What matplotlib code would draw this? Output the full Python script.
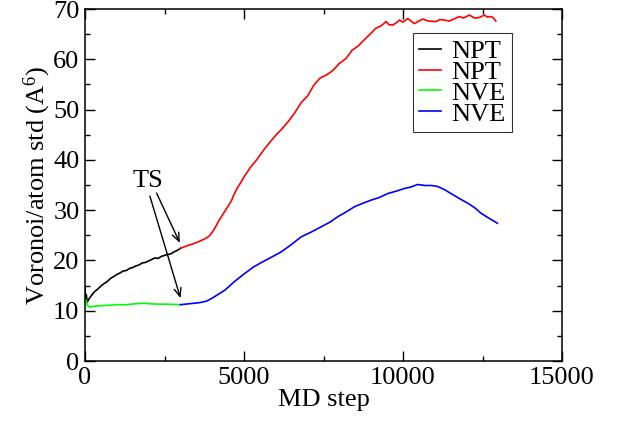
import matplotlib
matplotlib.use("Agg")
import matplotlib.pyplot as plt

# ---- data ----
npt1_step = [0, 15, 40, 70, 120, 200, 300, 400, 500, 600, 700, 800, 900, 1000,
             1100, 1200, 1300, 1400, 1500, 1600, 1700, 1800, 1900, 2000, 2100,
             2200, 2300, 2400, 2500, 2600, 2700, 2800, 2900, 3000]
npt1_val = [14.9, 12.2, 13.2, 11.7, 12.3, 13.0, 13.8, 14.3, 14.9, 15.4, 15.8,
            16.4, 16.8, 17.2, 17.5, 17.9, 18.0, 18.4, 18.6, 18.9, 19.1, 19.5,
            19.6, 19.9, 20.2, 20.5, 20.4, 20.8, 21.0, 21.2, 21.3, 21.7, 22.0, 22.4]

npt2_step = [3000, 3200, 3400, 3600, 3800, 3900, 4000, 4100, 4200, 4300, 4400,
             4500, 4600, 4700, 4800, 4900, 5000, 5200, 5400, 5600, 5800, 6000,
             6200, 6400, 6600, 6800, 7000, 7200, 7400, 7600, 7800, 8000, 8200,
             8400, 8600, 8800, 9000, 9150, 9300, 9470, 9550, 9680, 9800, 9890,
             10000, 10150, 10250, 10360, 10500, 10620, 10800, 11040, 11150,
             11300, 11450, 11600, 11770, 11900, 12090, 12250, 12400, 12560,
             12650, 12770, 12850, 12920]
npt2_val = [22.4, 22.9, 23.3, 23.8, 24.4, 24.8, 25.6, 26.6, 27.8, 28.8, 29.8,
            30.8, 31.8, 33.3, 34.5, 35.5, 36.6, 38.5, 40.0, 41.8, 43.4, 44.9,
            46.2, 47.7, 49.4, 51.4, 52.7, 54.9, 56.3, 56.9, 57.8, 59.2, 60.1,
            61.8, 62.7, 64.0, 65.2, 66.2, 66.6, 67.5, 66.9, 66.8, 67.3, 67.8,
            67.4, 68.1, 67.6, 67.1, 67.6, 68.0, 67.6, 67.5, 67.9, 67.8, 67.6,
            68.0, 68.5, 68.2, 68.8, 68.2, 68.3, 68.8, 68.4, 68.5, 68.2, 67.6]

nve1_step = [0, 30, 80, 150, 300, 500, 800, 1000, 1300, 1600, 1900, 2000,
             2300, 2600, 3000]
nve1_val = [11.8, 12.2, 11.0, 10.7, 10.9, 11.0, 11.1, 11.2, 11.2, 11.4, 11.5,
            11.4, 11.3, 11.3, 11.2]

nve2_step = [3000, 3300, 3600, 3820, 4000, 4200, 4400, 4700, 5020, 5300, 5550,
             5850, 6170, 6500, 6800, 7100, 7430, 7700, 7950, 8200, 8480, 8750,
             9000, 9250, 9520, 9800, 10040, 10250, 10460, 10700, 10900, 11090,
             11300, 11510, 11750, 12030, 12250, 12450, 12700, 12970]
nve2_val = [11.2, 11.4, 11.6, 11.9, 12.5, 13.3, 14.1, 15.8, 17.4, 18.7, 19.6,
            20.6, 21.7, 23.2, 24.7, 25.6, 26.7, 27.6, 28.7, 29.6, 30.7, 31.4,
            32.0, 32.5, 33.3, 33.8, 34.3, 34.6, 35.1, 34.9, 34.9, 34.7, 34.1,
            33.3, 32.4, 31.4, 30.5, 29.4, 28.4, 27.4]

series_labels = ["NPT", "NPT", "NVE", "NVE"]
series_colors = ["black", "red", "#00ff00", "blue"]

x_ticks = [0, 5000, 10000, 15000]
y_ticks = [0, 10, 20, 30, 40, 50, 60, 70]

plt.rcParams['font.family'] = ['Liberation Serif', 'DejaVu Serif']
plt.rcParams['mathtext.fontset'] = 'custom'
plt.rcParams['mathtext.rm'] = 'Liberation Serif'
plt.rcParams['mathtext.it'] = 'Liberation Serif:italic'

FS = 19

fig = plt.figure(figsize=(6.18, 4.21), dpi=100)
ax = fig.add_axes([85 / 618, 1 - 361 / 421, 477 / 618, 352 / 421])

data = [(npt1_step, npt1_val), (npt2_step, npt2_val),
        (nve1_step, nve1_val), (nve2_step, nve2_val)]
for (xs, ys), lab, col in zip(data, series_labels, series_colors):
    ax.plot(xs, ys, color=col, lw=1.2, label=lab)

ax.set_xlim(0, 15000)
ax.set_ylim(0, 70)
ax.set_xticks(x_ticks)
ax.set_yticks(y_ticks)
ax.set_xticks([2500, 7500, 12500], minor=True)
ax.set_yticks([5, 15, 25, 35, 45, 55, 65], minor=True)
ax.tick_params(which='both', direction='in', top=True, right=True,
               labelsize=FS, width=1.0)
ax.tick_params(which='major', length=7.2, pad=4)
ax.tick_params(which='minor', length=3.6)
for sp in ax.spines.values():
    sp.set_linewidth(1.1)

ax.set_xlabel("MD step", fontsize=FS, labelpad=0)
ax.set_ylabel("Voronoi/atom std (A$^6$)", fontsize=FS, labelpad=0)

# annotation
ax.text(1977, 35.8, "TS", fontsize=FS, ha='center', va='center')
arrow = dict(arrowstyle='->,head_length=0.6,head_width=0.25', color='black', lw=1.0,
             shrinkA=0, shrinkB=0)
ax.annotate('', xy=(2982, 23.5), xytext=(2250, 33.4), arrowprops=arrow)
ax.annotate('', xy=(3003, 12.5), xytext=(2040, 32.8), arrowprops=arrow)

leg = ax.legend(loc='upper right', bbox_to_anchor=(0.895, 0.932), fontsize=FS,
                frameon=True, fancybox=False, handlelength=0.8,
                handletextpad=0.4, labelspacing=-0.1, borderpad=0.25,
                borderaxespad=0)
leg.get_frame().set_edgecolor('black')
leg.get_frame().set_linewidth(0.8)

fig.savefig("out.png", dpi=100)
